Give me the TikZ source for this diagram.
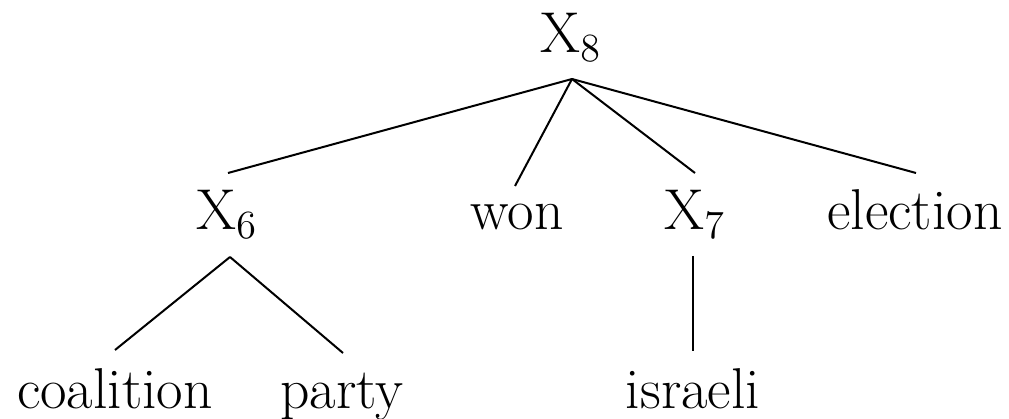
\documentclass[tikz,border=0pt]{standalone}
\begin{document}
\begin{tikzpicture}[x=0.3pt,y=-0.3pt,
  lbl/.style={anchor=base,inner sep=0pt,font=\fontsize{17.28}{21}\selectfont},
  edge/.style={line width=0.6pt}]
\useasboundingbox (0,0) rectangle (1009,419);
\node[lbl] (x8) at (571,53) {X$_8$};
\node[lbl] (x6) at (227,230) {X$_6$};
\node[lbl] (won) at (517,230) {won};
\node[lbl] (x7) at (695,230) {X$_7$};
\node[lbl] (election) at (915,230) {election};
\node[lbl] (coalition) at (115,408) {coalition};
\node[lbl] (party) at (342,408) {party};
\node[lbl] (israeli) at (693,408) {israeli};
\coordinate (x8b) at (572,79);
\coordinate (x6t) at (228,173);
\coordinate (wont) at (515,186);
\coordinate (x7t) at (695,173);
\coordinate (electiont) at (916,173);
\coordinate (x6b) at (230,257);
\coordinate (coalitiont) at (115,350);
\coordinate (partyt) at (343,353);
\coordinate (x7b) at (693,256);
\coordinate (israelit) at (693,351);
\draw[edge] (x8b) -- (x6t);
\draw[edge] (x8b) -- (wont);
\draw[edge] (x8b) -- (x7t);
\draw[edge] (x8b) -- (electiont);
\draw[edge] (x6b) -- (coalitiont);
\draw[edge] (x6b) -- (partyt);
\draw[edge] (x7b) -- (israelit);
\end{tikzpicture}
\end{document}
